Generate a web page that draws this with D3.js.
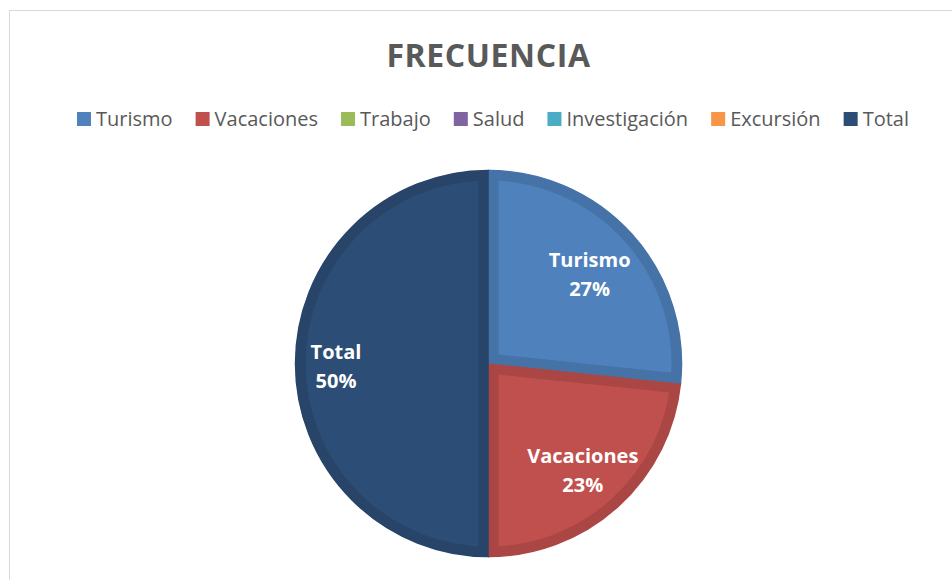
<!DOCTYPE html>
<html>
<head>
<meta charset="utf-8">
<script src="https://d3js.org/d3.v7.min.js"></script>
<style>
  html, body { margin: 0; padding: 0; background: #fff; }
  svg { display: block; }
</style>
</head>
<body>
<script>
// Frecuencia pie chart
const categories = ['Turismo', 'Vacaciones', 'Trabajo', 'Salud', 'Investigación', 'Excursión', 'Total'];
const values = [8, 7, 0, 0, 0, 0, 15];
const fillColors = ['#4f81bd', '#c0504d', '#9bbb59', '#8064a2', '#4bacc6', '#f79646', '#2c4d75'];
const edgeColors = ['#4572a7', '#aa4643', '#89a54e', '#71588f', '#4198af', '#db843d', '#284468'];

const width = 952;
const height = 580;
const cx = 488.5;
const cy = 363.5;
const radius = 193;
const font = "'Open Sans', 'Liberation Sans', sans-serif";

const svg = d3.select('body').append('svg')
  .attr('width', width)
  .attr('height', height);

// chart frame
svg.append('rect')
  .attr('x', 9.5)
  .attr('y', 10.5)
  .attr('width', width)
  .attr('height', height)
  .attr('fill', '#fff')
  .attr('stroke', '#d9d9d9')
  .attr('stroke-width', 1);

// title
svg.append('text')
  .attr('x', cx)
  .attr('y', 67)
  .attr('text-anchor', 'middle')
  .style('font-family', font)
  .style('font-size', '32px')
  .style('font-weight', 'bold')
  .style('letter-spacing', '0.6px')
  .style('fill', '#595959')
  .text('FRECUENCIA');

// legend
const legend = svg.append('g');
const markerSize = 14;
const legendLeft = 77;
const legendRight = 909;
const items = legend.selectAll('g')
  .data(categories)
  .enter().append('g');

items.append('rect')
  .attr('width', markerSize)
  .attr('height', markerSize)
  .attr('y', 112)
  .attr('fill', (d, i) => fillColors[i]);

items.append('text')
  .attr('x', markerSize + 5)
  .attr('y', 126)
  .style('font-family', font)
  .style('font-size', '20px')
  .style('fill', '#595959')
  .text(d => d);

const widths = [];
items.each(function () {
  widths.push(markerSize + 5 + d3.select(this).select('text').node().getComputedTextLength());
});
const itemGap = (legendRight - legendLeft - d3.sum(widths)) / (categories.length - 1);
let offset = legendLeft;
const positions = widths.map(w => { const p = offset; offset += w + itemGap; return p; });
items.attr('transform', (d, i) => `translate(${positions[i]},0)`);

// pie
const pie = d3.pie().sort(null).value(d => d.value);
const arcs = pie(categories.map((c, i) => ({ name: c, value: values[i], i: i })))
  .filter(d => d.data.value > 0);
const total = d3.sum(values);

const arc = d3.arc().innerRadius(0).outerRadius(radius);

const pieGroup = svg.append('g')
  .attr('transform', `translate(${cx},${cy})`);

const defs = svg.append('defs');
arcs.forEach(d => {
  defs.append('clipPath')
    .attr('id', 'clip-' + d.data.i)
    .append('path')
    .attr('d', arc(d));
});

// seam fill so no white hairlines show between slices
arcs.forEach(d => {
  pieGroup.append('path')
    .attr('d', arc(d))
    .attr('fill', 'none')
    .attr('stroke', edgeColors[d.data.i])
    .attr('stroke-width', 1.5);
});

const slices = pieGroup.selectAll('g.slice')
  .data(arcs)
  .enter().append('g')
  .attr('class', 'slice');

slices.append('path')
  .attr('d', arc)
  .attr('fill', d => fillColors[d.data.i])
  .attr('stroke', d => edgeColors[d.data.i])
  .attr('stroke-width', 20)
  .attr('clip-path', d => `url(#clip-${d.data.i})`);

// data labels
const labelRadius = [0.705, 0.73, 0, 0, 0, 0, 0.79];
const labels = pieGroup.selectAll('text.label')
  .data(arcs)
  .enter().append('text')
  .attr('class', 'label')
  .attr('transform', d => {
    const r = radius * labelRadius[d.data.i];
    return `translate(${d3.arc().innerRadius(r).outerRadius(r).centroid(d)})`;
  })
  .attr('text-anchor', 'middle')
  .style('font-family', font)
  .style('font-size', '20px')
  .style('font-weight', 'bold')
  .style('fill', '#fff');

labels.append('tspan')
  .attr('x', 0)
  .attr('y', -5)
  .text(d => d.data.name);

labels.append('tspan')
  .attr('x', 0)
  .attr('y', 24)
  .text(d => Math.round(d.data.value / total * 100) + '%');
</script>
</body>
</html>
